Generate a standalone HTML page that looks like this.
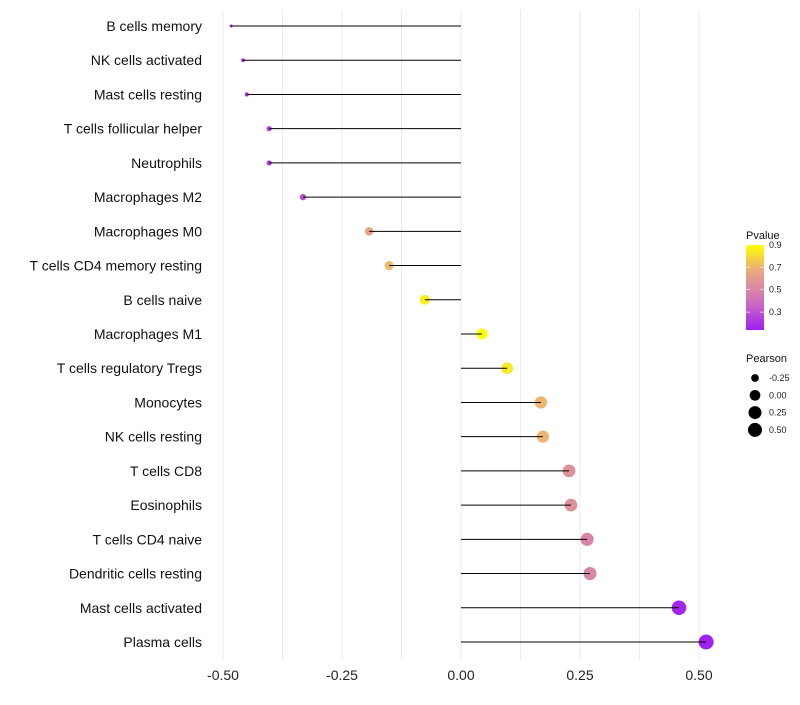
<!DOCTYPE html>
<html><head><meta charset="utf-8"><style>
body{margin:0;background:#fff;font-family:"Liberation Sans",sans-serif}
</style></head><body>
<svg id="c" width="800" height="700" xmlns="http://www.w3.org/2000/svg">
<defs><linearGradient id="pg" x1="0" y1="1" x2="0" y2="0">
<stop offset="0" stop-color="#a020f0"/><stop offset="0.35" stop-color="#cf72bd"/><stop offset="0.7" stop-color="#eba97f"/><stop offset="1" stop-color="#ffff00"/></linearGradient></defs>
</svg>
<script>
const categories=["B cells memory","NK cells activated","Mast cells resting","T cells follicular helper","Neutrophils","Macrophages M2","Macrophages M0","T cells CD4 memory resting","B cells naive","Macrophages M1","T cells regulatory  Tregs ","Monocytes","NK cells resting","T cells CD8","Eosinophils","T cells CD4 naive","Dendritic cells resting","Mast cells activated","Plasma cells"];
const pearson=[-0.483,-0.458,-0.45,-0.403,-0.403,-0.332,-0.193,-0.151,-0.076,0.044,0.097,0.168,0.172,0.227,0.231,0.265,0.271,0.458,0.515];
const pvalue=[0.14,0.17,0.18,0.22,0.22,0.3,0.64,0.72,0.86,0.9,0.84,0.7,0.7,0.55,0.55,0.5,0.5,0.16,0.14];
const xTicks=[-0.5,-0.25,0,0.25,0.5];
const xTickLabels=["-0.50","-0.25","0.00","0.25","0.50"];
const pTicks=[0.3,0.5,0.7,0.9];
const sizeTicks=[-0.25,0,0.25,0.5];
const sizeTickLabels=["-0.25","0.00","0.25","0.50"];

const NS="http://www.w3.org/2000/svg",svg=document.getElementById('c');
function mk(t,a,p){const e=document.createElementNS(NS,t);for(const k in a)e.setAttribute(k,a[k]);(p||svg).appendChild(e);return e;}
const x=v=>461+v*476;
const y=i=>26+i*(642-26)/18;
const pmin=0.14,pmax=0.9;
const stops=[[0,[160,32,240]],[0.35,[207,114,189]],[0.7,[235,169,127]],[1,[255,255,0]]];
function col(p){let t=Math.max(0,Math.min(1,(p-pmin)/(pmax-pmin)));for(let i=1;i<stops.length;i++){if(t<=stops[i][0]){const a=stops[i-1],b=stops[i],f=(t-a[0])/(b[0]-a[0]);return 'rgb('+a[1].map((c,j)=>Math.round(c+(b[1][j]-c)*f)).join(',')+')';}}return 'rgb(255,255,0)';}
const rmin=Math.min(...pearson),rmax=Math.max(...pearson);
function rad(v){const a=1.5*1.5+(v-rmin)/(rmax-rmin)*(7.5*7.5-2.25);return Math.sqrt(Math.max(a,1));}
for(let i=-4;i<=4;i++){const g=mk('line',{x1:x(i*0.125),x2:x(i*0.125),y1:10,y2:660,stroke:'#ebebeb','stroke-width':1});

}
xTicks.forEach((v,i)=>{const t=mk('text',{x:x(v),y:680,'text-anchor':'middle','font-size':14,fill:'#222'});t.textContent=xTickLabels[i];

});
categories.forEach((c,i)=>{
const t=mk('text',{x:202,y:y(i)+5,'text-anchor':'end','font-size':14,fill:'#111'});t.textContent=c;


const d=mk('circle',{cx:x(pearson[i]),cy:y(i),r:rad(pearson[i]),fill:col(pvalue[i])});


const l=mk('line',{x1:x(0),x2:x(pearson[i]),y1:y(i),y2:y(i),stroke:'#000','stroke-width':1});


});
const lg=mk('g',{});


let tt=mk('text',{x:746,y:239,'font-size':11,fill:'#111'},lg);tt.textContent='Pvalue';
mk('rect',{x:746,y:245,width:18,height:85,fill:'url(#pg)'},lg);
const py=p=>330-(p-pmin)/(pmax-pmin)*85;
pTicks.forEach(p=>{mk('line',{x1:746,x2:750,y1:py(p),y2:py(p),stroke:'#fff','stroke-width':0.6},lg);mk('line',{x1:760,x2:764,y1:py(p),y2:py(p),stroke:'#fff','stroke-width':0.6},lg);
const t=mk('text',{x:769,y:py(p)+3,'font-size':9,fill:'#222'},lg);t.textContent=p.toFixed(1);

});
const sg=mk('g',{});


tt=mk('text',{x:746,y:362,'font-size':11,fill:'#111'},sg);tt.textContent='Pearson';
sizeTicks.forEach((v,i)=>{const cy=378+i*17.3;mk('circle',{cx:755,cy:cy,r:Math.min(rad(v),7),fill:'#000'},sg);
const t=mk('text',{x:769,y:cy+3,'font-size':9,fill:'#222'},sg);t.textContent=sizeTickLabels[i];

});
</script>
</body></html>
